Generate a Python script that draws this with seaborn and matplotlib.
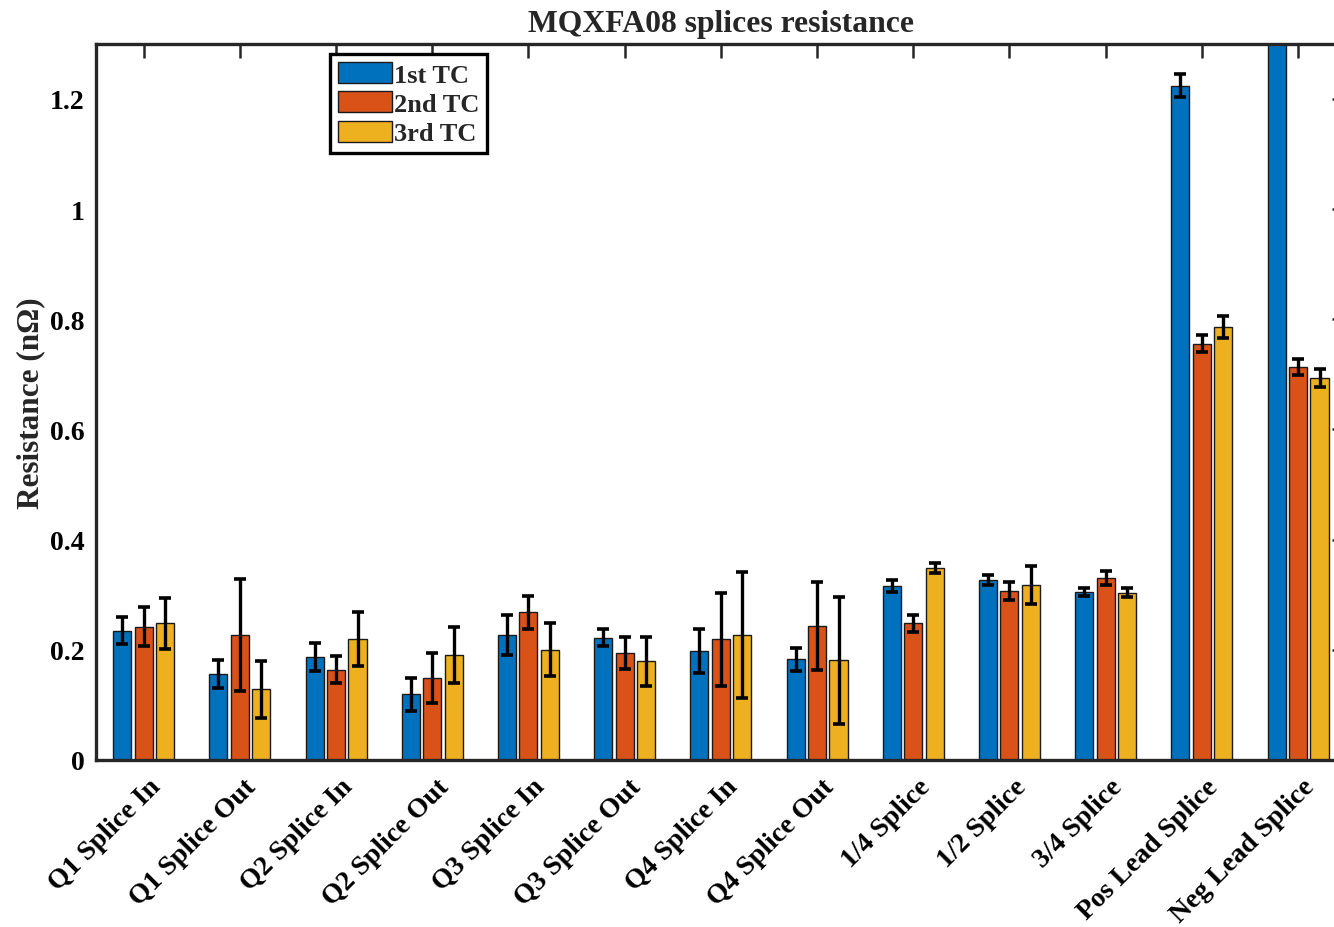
import matplotlib
matplotlib.use("Agg")
import matplotlib.pyplot as plt
import matplotlib.transforms as mtransforms
import numpy as np
import pandas as pd
import seaborn as sns

# Splice locations along the magnet
splices = ["Q1 Splice In", "Q1 Splice Out", "Q2 Splice In", "Q2 Splice Out",
           "Q3 Splice In", "Q3 Splice Out", "Q4 Splice In", "Q4 Splice Out",
           "1/4 Splice", "1/2 Splice", "3/4 Splice", "Pos Lead Splice", "Neg Lead Splice"]

# Thermal cycles
cycles = ["1st TC", "2nd TC", "3rd TC"]

# Mean resistance (nOhm) per thermal cycle
tc1_mean = [0.235, 0.156, 0.187, 0.119, 0.227, 0.222, 0.197, 0.183, 0.316, 0.327, 0.305, 1.224, 1.52]
tc2_mean = [0.242, 0.227, 0.164, 0.149, 0.268, 0.195, 0.219, 0.243, 0.248, 0.307, 0.330, 0.756, 0.713]
tc3_mean = [0.248, 0.128, 0.219, 0.191, 0.200, 0.179, 0.227, 0.181, 0.349, 0.318, 0.304, 0.786, 0.693]

# Standard deviation (nOhm) per thermal cycle
tc1_err = [0.024, 0.026, 0.026, 0.030, 0.036, 0.016, 0.040, 0.021, 0.011, 0.009, 0.008, 0.021, 0.02]
tc2_err = [0.035, 0.102, 0.025, 0.045, 0.030, 0.029, 0.084, 0.080, 0.015, 0.016, 0.013, 0.016, 0.015]
tc3_err = [0.046, 0.052, 0.049, 0.051, 0.048, 0.045, 0.114, 0.115, 0.009, 0.035, 0.008, 0.020, 0.016]

means = [tc1_mean, tc2_mean, tc3_mean]
errs = [tc1_err, tc2_err, tc3_err]

df = pd.DataFrame({
    "splice": np.tile(splices, len(cycles)),
    "cycle": np.repeat(cycles, len(splices)),
    "resistance": np.concatenate(means),
})

sns.set_theme(style="white")
plt.rcParams["font.family"] = ["Liberation Serif", "DejaVu Serif"]
plt.rcParams["font.weight"] = "bold"
plt.rcParams["axes.labelweight"] = "bold"
plt.rcParams["axes.titleweight"] = "bold"

palette = ["#0072BD", "#D95319", "#EDB120"]
spine_color = "#262626"

fig = plt.figure(figsize=(13.34, 9.28), dpi=100)
ax = fig.add_axes([0.0716, 0.180, 0.9375, 0.7716])

sns.barplot(data=df, x="splice", y="resistance", hue="cycle",
            order=splices, hue_order=cycles, palette=palette,
            width=0.67, gap=0.16, errorbar=None,
            edgecolor="#1a1a1a", linewidth=1.0, saturation=1.0, ax=ax)

# Error bars at the centre of each drawn bar
for container, m, e in zip(ax.containers, means, errs):
    xs = [p.get_x() + p.get_width() / 2 for p in container.patches]
    ax.errorbar(xs, m, yerr=e, fmt="none", ecolor="black",
                elinewidth=2.4, capsize=4, capthick=2.6, zorder=4)

ax.set_xlim(-0.5, 12.5)
ax.set_ylim(0, 1.3)
ax.set_yticks([0, 0.2, 0.4, 0.6, 0.8, 1.0, 1.2])
ax.set_yticklabels(["0", "0.2", "0.4", "0.6", "0.8", "1", "1.2"])
ax.set_xticks(range(len(splices)))
ax.set_xticklabels(splices, rotation=45, ha="right", va="top",
                   rotation_mode="anchor")

ax.set_axisbelow(True)
ax.tick_params(axis="both", direction="in", top=True, right=True,
               length=10, width=1.8, color=spine_color, labelsize=20,
               labelcolor="black")
ax.tick_params(axis="x", pad=10)
ax.tick_params(axis="y", pad=8)
shift = mtransforms.ScaledTranslation(4 / 100, 0, fig.dpi_scale_trans)
for lbl in ax.get_xticklabels():
    lbl.set_fontweight("bold")
    lbl.set_transform(lbl.get_transform() + shift)
for lbl in ax.get_yticklabels():
    lbl.set_fontweight("bold")

for s in ax.spines.values():
    s.set_visible(True)
    s.set_linewidth(2.4)
    s.set_color(spine_color)

ax.set_xlabel("")
ax.set_ylabel("Resistance (nΩ)", fontsize=22.5, fontweight="bold", labelpad=3)
ax.set_title("MQXFA08 splices resistance", fontsize=22.8, fontweight="bold", pad=9)

leg = ax.legend(loc="upper left", bbox_to_anchor=(0.1875, 0.986), borderaxespad=0,
                frameon=True, fancybox=False, handlelength=2.05,
                handleheight=0.85, handletextpad=0.08, labelspacing=0.18,
                borderpad=0.3, prop={"weight": "bold", "size": 19})
leg.get_frame().set_edgecolor("black")
leg.get_frame().set_linewidth(2.4)
leg.get_frame().set_alpha(1.0)

fig.savefig("out.png", dpi=100)
